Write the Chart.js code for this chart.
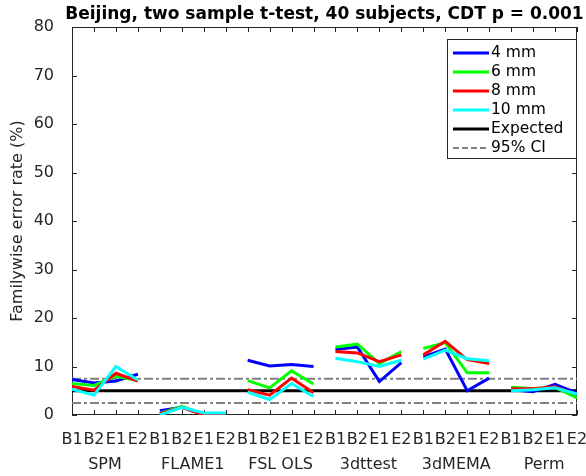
<!DOCTYPE html>
<html>
<head>
<meta charset="utf-8">
<script src="https://cdn.jsdelivr.net/npm/chart.js@4.4.1/dist/chart.umd.min.js"></script>
<style>
  html, body { margin: 0; padding: 0; background: #fff; }
</style>
</head>
<body>
<canvas id="myChart" width="586" height="476"></canvas>
<script>
// values (familywise error rate, %)
const groups = ['SPM', 'FLAME1', 'FSL OLS', '3dttest', '3dMEMA', 'Perm'];
const conds = ['B1', 'B2', 'E1', 'E2'];
const fwe4mm  = [7.3, 6.6, 7.0, 8.4,  0.9, 1.6, 0.1, 0.1,  11.3, 10.1, 10.4, 10.0,  13.5, 14.0, 6.9, 10.8,  12.0, 13.6, 5.0, 7.6,  5.2, 4.8, 6.3, 4.5];
const fwe6mm  = [6.5, 6.1, 8.0, 7.1,  0.3, 1.8, 0.1, 0.1,  7.1, 5.6, 9.1, 6.4,  14.0, 14.6, 10.6, 13.1,  13.7, 14.9, 8.7, 8.7,  5.7, 5.4, 5.7, 3.5];
const fwe8mm  = [5.9, 5.1, 8.6, 7.0,  0.2, 1.6, 0.0, 0.0,  5.2, 4.1, 7.6, 4.6,  13.1, 12.8, 11.0, 12.4,  12.4, 15.2, 11.4, 10.6,  5.4, 5.4, 5.8, 4.2];
const fwe10mm = [5.3, 4.1, 10.0, 7.2,  0.0, 1.6, 0.4, 0.4,  4.7, 3.2, 6.5, 3.8,  11.7, 11.0, 10.0, 11.3,  11.5, 13.4, 11.6, 11.2,  5.0, 5.2, 5.6, 4.3];
const expected = 5;
const ciLow = 2.5;
const ciHigh = 7.5;

const axisColor = '#262626';
const fontFam = "'DejaVu Sans', sans-serif";
const tickLen = 5;

// each group is its own segment, so put a gap between groups
function toPoints(vals) {
  let pts = [];
  vals.forEach((v, i) => {
    pts.push({x: i + 1, y: v});
    if (i % 4 == 3 && i < vals.length - 1) pts.push({x: i + 1.5, y: null});
  });
  return pts;
}
function flat(v) {
  return [{x: 1, y: v}, {x: conds.length * groups.length, y: v}];
}
// keep the plot box where matlab put it, labels may hang over
function noSidePad(s, h) {
  s.height = h;
  s.paddingLeft = 0;
  s.paddingRight = 0;
}

// box, inward ticks, title and legend like the matlab figure
const matlabAxes = {
  id: 'matlabAxes',
  beforeDatasetsDraw(chart) {
    const {ctx, chartArea: a, scales} = chart;
    ctx.save();
    ctx.strokeStyle = axisColor;
    ctx.lineWidth = 1;
    ctx.strokeRect(a.left + 0.5, a.top + 0.5, a.right - a.left - 1, a.bottom - a.top - 1);
    ctx.beginPath();
    scales.x.ticks.forEach(t => {
      let px = Math.round(scales.x.getPixelForValue(t.value)) + 0.5;
      ctx.moveTo(px, a.bottom); ctx.lineTo(px, a.bottom - tickLen);
      ctx.moveTo(px, a.top); ctx.lineTo(px, a.top + tickLen);
    });
    scales.y.ticks.forEach(t => {
      let py = Math.round(scales.y.getPixelForValue(t.value)) + 0.5;
      ctx.moveTo(a.left, py); ctx.lineTo(a.left + tickLen, py);
      ctx.moveTo(a.right, py); ctx.lineTo(a.right - tickLen, py);
    });
    ctx.stroke();
    ctx.restore();
  },
  afterDraw(chart) {
    const {ctx, chartArea: a} = chart;
    ctx.save();
    // title
    ctx.fillStyle = '#000';
    ctx.font = "bold 17px " + fontFam;
    ctx.textAlign = 'center';
    ctx.textBaseline = 'alphabetic';
    ctx.fillText('Beijing, two sample t-test, 40 subjects, CDT p = 0.001', (a.left + a.right) / 2, 19);

    // legend
    let seen = new Set();
    let items = chart.data.datasets.filter(d => !seen.has(d.label) && seen.add(d.label));
    let x0 = a.right - 130, y0 = a.top + 12, w = 129, h = 119;
    ctx.fillStyle = '#fff';
    ctx.fillRect(x0, y0, w, h);
    ctx.strokeStyle = axisColor;
    ctx.lineWidth = 1;
    ctx.strokeRect(x0 + 0.5, y0 + 0.5, w, h);
    ctx.font = "15.5px " + fontFam;
    ctx.textAlign = 'left';
    ctx.textBaseline = 'middle';
    items.forEach((d, i) => {
      let y = y0 + 14 + 19 * i;
      ctx.beginPath();
      ctx.strokeStyle = d.borderColor;
      ctx.lineWidth = d.borderWidth;
      ctx.setLineDash(d.borderDash ? [6, 3] : []);
      ctx.moveTo(x0 + 6, y);
      ctx.lineTo(x0 + 42, y);
      ctx.stroke();
      ctx.setLineDash([]);
      ctx.fillStyle = '#000';
      ctx.fillText(d.label, x0 + 44, y);
    });
    ctx.restore();
  }
};

let ctx = document.getElementById('myChart').getContext('2d');

let myChart = new Chart(ctx, {
  type: 'line',
  data: {
    datasets: [
      {label: '4 mm', data: toPoints(fwe4mm), borderColor: '#0000ff', borderWidth: 3, order: 3},
      {label: '6 mm', data: toPoints(fwe6mm), borderColor: '#00ff00', borderWidth: 3, order: 2},
      {label: '8 mm', data: toPoints(fwe8mm), borderColor: '#ff0000', borderWidth: 3, order: 1},
      {label: '10 mm', data: toPoints(fwe10mm), borderColor: '#00ffff', borderWidth: 3, order: 0},
      {label: 'Expected', data: flat(expected), borderColor: '#000000', borderWidth: 3, order: 4},
      {label: '95% CI', data: flat(ciHigh), borderColor: '#808080', borderWidth: 2, borderDash: [9, 3, 3, 3], order: 5},
      {label: '95% CI', data: flat(ciLow), borderColor: '#808080', borderWidth: 2, borderDash: [9, 3, 3, 3], order: 5}
    ]
  },
  options: {
    responsive: false,
    animation: false,
    layout: {
      padding: {top: 27, right: 9, bottom: 0, left: 0}
    },
    elements: {
      point: {radius: 0, hoverRadius: 0},
      line: {tension: 0, fill: false}
    },
    plugins: {
      legend: {display: false},
      title: {display: false},
      tooltip: {enabled: false}
    },
    scales: {
      x: {
        type: 'linear',
        position: 'bottom',
        min: 1,
        max: 24,
        grid: {display: false},
        border: {display: false},
        ticks: {
          stepSize: 1,
          autoSkip: false,
          maxRotation: 0,
          padding: 7,
          color: axisColor,
          font: {size: 16, family: fontFam},
          callback: (v) => conds[(v - 1) % 4]
        },
        afterFit: (s) => noSidePad(s, 30)
      },
      xg: {
        type: 'linear',
        position: 'bottom',
        min: 1,
        max: 24,
        grid: {display: false},
        border: {display: false},
        afterBuildTicks: (s) => { s.ticks = groups.map((g, i) => ({value: 2.5 + 4 * i})); },
        ticks: {
          autoSkip: false,
          maxRotation: 0,
          padding: 2,
          color: axisColor,
          font: {size: 16, family: fontFam},
          callback: (v) => groups[Math.round((v - 2.5) / 4)]
        },
        afterFit: (s) => noSidePad(s, 31)
      },
      y: {
        min: 0,
        max: 80,
        grid: {display: false},
        border: {display: false},
        ticks: {
          stepSize: 10,
          padding: 10,
          color: axisColor,
          font: {size: 16, family: fontFam}
        },
        title: {
          display: true,
          text: 'Familywise error rate (%)',
          color: axisColor,
          padding: {top: 8, bottom: 0},
          font: {size: 16, family: fontFam}
        },
        afterFit: (s) => { s.width = 72; }
      }
    }
  },
  plugins: [matlabAxes]
});
</script>
</body>
</html>
